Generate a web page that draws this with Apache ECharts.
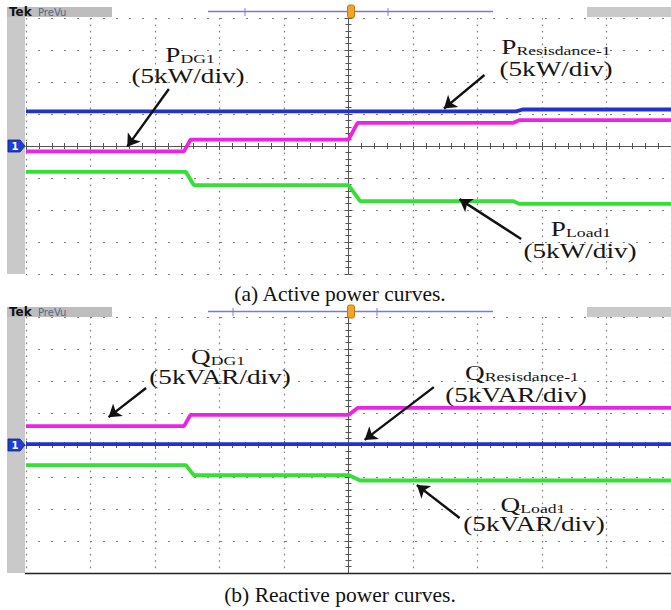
<!DOCTYPE html>
<html><head><meta charset="utf-8">
<script src="https://cdn.jsdelivr.net/npm/echarts@6/dist/echarts.min.js"></script>
<style>html,body{margin:0;padding:0;background:#fff}#c{width:671px;height:610px}</style>
</head><body><div id="c"></div>
<script>
// x: time in divisions from the trigger (centre); y: divisions (5 kW or 5 kVAR per div)
const pResX = [-5, 2.6, 2.7, 5];
const pResY = [1.08, 1.08, 1.14, 1.14];
const pDgX = [-5, -2.55, -2.45, 0, 0.14, 2.55, 2.65, 5];
const pDgY = [-0.17, -0.17, 0.2, 0.2, 0.72, 0.72, 0.81, 0.81];
const pLoadX = [-5, -2.52, -2.4, 0, 0.18, 2.55, 2.65, 5];
const pLoadY = [-0.81, -0.81, -1.22, -1.22, -1.72, -1.72, -1.81, -1.81];
const qResX = [-5, 5];
const qResY = [0.03, 0.03];
const qDgX = [-5, -2.55, -2.45, 0, 0.14, 5];
const qDgY = [0.59, 0.59, 0.94, 0.94, 1.16, 1.16];
const qLoadX = [-5, -2.52, -2.4, 0, 0.18, 5];
const qLoadY = [-0.63, -0.63, -0.94, -0.94, -1.11, -1.11];
const captions = ['(a) Active power curves.', '(b) Reactive power curves.'];
const labels = [
  ['P', 'DG1', '(5kW/div)'],
  ['P', 'Resisdance-1', '(5kW/div)'],
  ['P', 'Load1', '(5kW/div)'],
  ['Q', 'DG1', '(5kVAR/div)'],
  ['Q', 'Resisdance-1', '(5kVAR/div)'],
  ['Q', 'Load1', '(5kVAR/div)']
];

const zip = (a, b) => a.map((v, i) => [v, b[i]]);
const AX = '#555';
const GRIDC = '#808080';
function xAx(g, pos, main) {
  return {type:'value', gridIndex:g, position:pos, min:-5, max:5, interval:1,
    axisLine:{show:true, onZero:true, lineStyle:{color:AX, width:1}},
    axisTick:{show:true, length:4, lineStyle:{color:AX}},
    minorTick:{show:true, splitNumber:5, length:3, lineStyle:{color:AX}},
    axisLabel:{show:false},
    splitLine:{show:main, lineStyle:{color:GRIDC, width:1.2, type:[1.6,4.8]}}};
}
function yAx(g, pos, main) {
  return {type:'value', gridIndex:g, position:pos, min:-4, max:4, interval:1,
    axisLine:{show:true, onZero:true, lineStyle:{color:AX, width:1}},
    axisTick:{show:true, length:4, lineStyle:{color:AX}},
    minorTick:{show:true, splitNumber:5, length:3, lineStyle:{color:AX}},
    axisLabel:{show:false},
    splitLine:{show:main, lineStyle:{color:GRIDC, width:1.2, type:[2,11], dashOffset:1}}};
}
const BLUE = '#2233cc', MAG = '#ee22e6', GRN = '#33e033';
function line(data, color, xi, yi, extra) {
  return Object.assign({type:'line', data, xAxisIndex:xi, yAxisIndex:yi, showSymbol:false, symbol:'none',
    lineStyle:{color, width:3.8}, itemStyle:{color}, animation:false, silent:true}, extra || {});
}
function arrows(list) {
  return {markLine:{silent:true, animation:false, symbol:['none','arrow'], symbolSize:12,
    lineStyle:{color:'#111', width:2.4, type:'solid'}, label:{show:false}, emphasis:{disabled:true},
    data:list.map(a => [{coord:a[0]}, {coord:a[1]}])}};
}

const FONT = 'Liberation Serif, Times New Roman, serif';
const g = [];
function rect(x, y, w, h, fill, z) { g.push({type:'rect', shape:{x, y, width:w, height:h}, style:{fill}, z:z||0, silent:true}); }
function seg(x1, y1, x2, y2, stroke, w, z) { g.push({type:'line', shape:{x1, y1, x2, y2}, style:{stroke, lineWidth:w}, z:z||1, silent:true}); }
function header(top, bottom, t1, t2) {
  rect(7, top, 18, bottom - top, '#c9c9c9');
  rect(7, top, 105, 10, '#bdbdbd');
  rect(587, top, 84, 10, '#c9c9c9');
  g.push({type:'text', x:9, y:top+5, style:{text:'Tek', fontSize:12, fontWeight:'bold', fontFamily:'DejaVu Sans', fill:'#111', verticalAlign:'middle'}, z:3, silent:true});
  g.push({type:'text', x:38, y:top+5, style:{text:'PreVu', fontSize:10, fontFamily:'DejaVu Sans', fill:'#556688', verticalAlign:'middle'}, z:3, silent:true});
  seg(208, top+4.5, 493, top+4.5, '#7878e0', 1.5, 2);
  seg(t1, top+1, t1, top+9, '#8080d0', 1, 2);
  seg(t2, top+1, t2, top+9, '#8080d0', 1, 2);
  g.push({type:'rect', shape:{x:347.5, y:top-2, width:7, height:13, r:2}, style:{fill:'#f3a427', stroke:'#c07a10', lineWidth:1}, z:5, silent:true});
}
function chMarker(y) {
  g.push({type:'polygon', shape:{points:[[8,y-6],[20,y-6],[25,y],[20,y+6],[8,y+6]]}, style:{fill:'#1f3fd0', stroke:'#0d1f80', lineWidth:0.8}, z:3, silent:true});
  g.push({type:'text', x:15, y:y, style:{text:'1', fontSize:10, fontWeight:'bold', fontFamily:'DejaVu Sans', fill:'#fff', align:'center', verticalAlign:'middle'}, z:4, silent:true});
}
header(7, 274, 245, 388);
header(307, 573, 233, 377);
chMarker(146);
chMarker(445);
seg(25, 573.5, 671, 573.5, '#222', 1.5, 2);

function annot(i, x1, y1, x2, y2) {
  const L = labels[i];
  const rich = {m:{fontSize:20, fontFamily:FONT, fill:'#151515', verticalAlign:'bottom'},
                s:{fontSize:13, fontFamily:FONT, fill:'#151515', verticalAlign:'bottom'}};
  g.push({type:'text', x:x1, y:y1, scaleX:1.36, style:{text:'{m|' + L[0] + '}{s|' + L[1] + '}', rich, align:'center', verticalAlign:'middle'}, z:6, silent:true});
  g.push({type:'text', x:x2, y:y2, scaleX:1.36, style:{text:L[2], fontSize:20, fontFamily:FONT, fill:'#151515', align:'center', verticalAlign:'middle'}, z:6, silent:true});
}
annot(0, 190, 55, 188, 76.5);
annot(1, 556, 47, 556, 69.5);
annot(2, 581, 229, 580, 251.5);
annot(3, 218, 357, 220, 377);
annot(4, 522, 373, 516, 395.5);
annot(5, 533, 505, 534, 524.5);

g.push({type:'text', x:340, y:294, style:{text:captions[0], fontSize:21.5, fontFamily:FONT, fill:'#111', align:'center', verticalAlign:'middle'}, silent:true});
g.push({type:'text', x:340, y:595, style:{text:captions[1], fontSize:21.5, fontFamily:FONT, fill:'#111', align:'center', verticalAlign:'middle'}, silent:true});

const chart = echarts.init(document.getElementById('c'), null, {renderer:'svg'});
chart.setOption({
  animation:false,
  backgroundColor:'#fff',
  grid:[{left:26, top:18, width:650, height:256}, {left:26, top:317, width:650, height:256}],
  xAxis:[xAx(0,'bottom',true), xAx(0,'top',false), xAx(1,'bottom',true), xAx(1,'top',false)],
  yAxis:[yAx(0,'left',true), yAx(0,'right',false), yAx(1,'left',true), yAx(1,'right',false)],
  series:[
    line(zip(pResX, pResY), BLUE, 0, 0, arrows([
      [[-2.785, 1.78], [-3.43, -0.02]],
      [[2.108, 2.22], [1.48, 1.17]],
      [[2.677, -2.906], [1.72, -1.66]]
    ])),
    line(zip(pDgX, pDgY), MAG, 0, 0),
    line(zip(pLoadX, pLoadY), GRN, 0, 0),
    line(zip(qResX, qResY), BLUE, 2, 2, arrows([
      [[-3.138, 1.78], [-3.72, 0.87]],
      [[1.323, 1.81], [0.25, 0.16]],
      [[1.723, -2.28], [1.06, -1.25]]
    ])),
    line(zip(qDgX, qDgY), MAG, 2, 2),
    line(zip(qLoadX, qLoadY), GRN, 2, 2)
  ],
  graphic:{elements:g}
});
</script></body></html>
